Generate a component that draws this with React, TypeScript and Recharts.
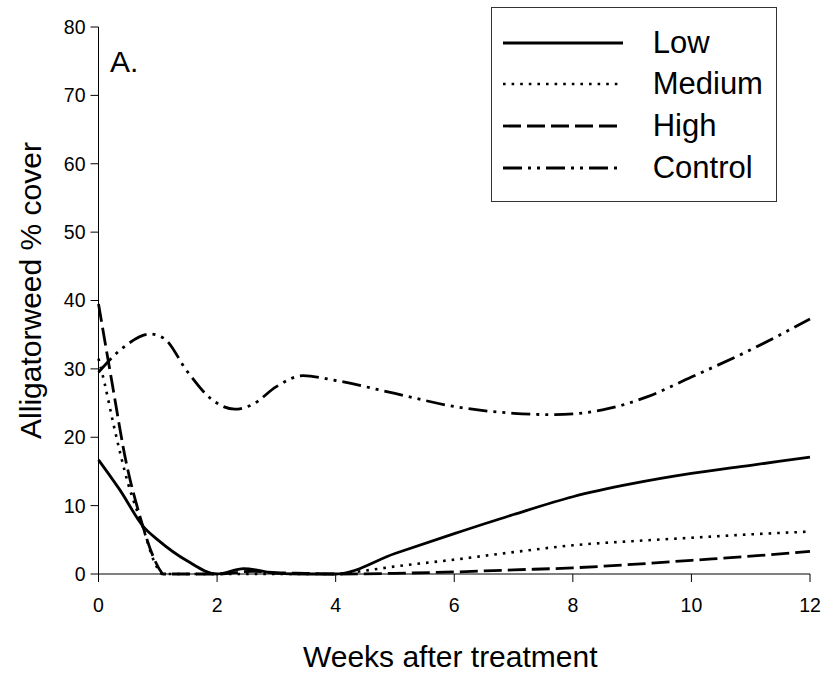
import React from 'react';
import { LineChart, Line, XAxis, YAxis, Legend } from 'recharts';

// Weeks after treatment (x) and % cover (y)
const lowWeeks = [0, 0.36, 0.76, 1.0, 1.5, 2.0, 2.45, 3.0, 3.5, 4, 5, 6, 7, 8, 9, 10, 11, 12];
const lowCover = [16.7, 12.3, 6.9, 5.0, 1.9, 0, 0.8, 0.1, 0, 0, 3.0, 5.9, 8.7, 11.3, 13.2, 14.7, 15.9, 17.1];

const mediumWeeks = [0, 0.1, 0.25, 0.5, 0.75, 0.95, 1.04, 1.07, 2, 3, 4, 4.5, 5, 6, 7, 8, 9, 10, 11, 12];
const mediumCover = [31.5, 28.0, 22.0, 13.2, 6.8, 1.6, 0.3, 0, 0, 0, 0, 0.5, 1.1, 2.1, 3.2, 4.2, 4.8, 5.3, 5.8, 6.2];

const highWeeks = [0, 0.22, 0.47, 0.7, 0.95, 1.05, 1.09, 2.0, 2.6, 3.0, 3.5, 4, 5, 6, 7, 8, 9, 10, 11, 12];
const highCover = [39.5, 28.4, 16.2, 8.4, 2.0, 0.4, 0, 0, 0.4, 0.2, 0.1, 0, 0.1, 0.3, 0.6, 0.9, 1.4, 2.0, 2.6, 3.3];

const controlWeeks = [0, 0.4, 0.87, 1.1, 1.5, 1.9, 2.3, 2.6, 3.0, 3.45, 4, 5, 6, 7, 7.67, 8.5, 9.25, 10, 11, 12];
const controlCover = [29.5, 33.0, 35.1, 34.5, 29.6, 25.6, 24.1, 24.8, 27.4, 29.0, 28.3, 26.4, 24.5, 23.5, 23.3, 24.0, 25.9, 28.8, 32.8, 37.3];

const xTicks = [0, 2, 4, 6, 8, 10, 12];
const yTicks = [0, 10, 20, 30, 40, 50, 60, 70, 80];

const seriesNames = ['Low', 'Medium', 'High', 'Control'];

const toData = (xs: number[], ys: number[]) => xs.map((x, i) => ({ x, y: ys[i] }));

const FONT = '"Liberation Sans", Arial, sans-serif';
const SW = 2.8;

const styles: Record<string, { dash?: string; width: number }> = {
  Low: { width: SW },
  Medium: { dash: '2.6 6', width: 2.6 },
  High: { dash: '18 6', width: SW },
  Control: { dash: '19 6 3 6 3 6', width: SW },
};

const series = [
  { name: 'Low', data: toData(lowWeeks, lowCover) },
  { name: 'Medium', data: toData(mediumWeeks, mediumCover) },
  { name: 'High', data: toData(highWeeks, highCover) },
  { name: 'Control', data: toData(controlWeeks, controlCover) },
];

const LegendBox = () => (
  <div
    style={{
      border: '1px solid #333',
      width: 286,
      height: 195,
      boxSizing: 'border-box',
      paddingTop: 14,
      background: '#fff',
      fontFamily: FONT,
    }}
  >
    {seriesNames.map((n) => (
      <div key={n} style={{ height: 41.7, display: 'flex', alignItems: 'center' }}>
        <svg width={150} height={20} style={{ display: 'block' }}>
          <line
            x1={11}
            y1={10}
            x2={131}
            y2={10}
            stroke="#000"
            strokeWidth={styles[n].width}
            strokeDasharray={styles[n].dash}
          />
        </svg>
        <span style={{ marginLeft: 11, fontSize: 31, color: '#000', lineHeight: '34px' }}>{n}</span>
      </div>
    ))}
  </div>
);

const XLabel = (props: any) => {
  const vb = props.viewBox || { x: 98.5, y: 574, width: 711.5, height: 30 };
  return (
    <text x={vb.x + vb.width / 2 - 4} y={667} textAnchor="middle" fontSize={30} fontFamily={FONT} fill="#000">
      Weeks after treatment
    </text>
  );
};

const YLabel = (props: any) => {
  const vb = props.viewBox || { x: 38.5, y: 27, width: 60, height: 547 };
  const cx = 41;
  const cy = vb.y + vb.height / 2 - 10;
  return (
    <text
      x={cx}
      y={cy}
      transform={`rotate(-90, ${cx}, ${cy})`}
      textAnchor="middle"
      fontSize={30}
      fontFamily={FONT}
      fill="#000"
    >
      Alligatorweed % cover
    </text>
  );
};

export default function App() {
  return (
    <div style={{ position: 'absolute', left: 0, top: 0, background: '#fff' }}>
      <LineChart width={827} height={675} margin={{ top: 27, right: 17, bottom: 71, left: 38.5 }}>
        <XAxis
          dataKey="x"
          type="number"
          domain={[0, 12]}
          ticks={xTicks}
          allowDuplicatedCategory={false}
          height={30}
          tickSize={8}
          tickMargin={16}
          stroke="#000"
          tick={{ fill: '#000', fontSize: 19.5, fontFamily: FONT }}
          label={{ content: XLabel }}
        />
        <YAxis
          type="number"
          domain={[0, 80]}
          ticks={yTicks}
          width={60}
          tickSize={8}
          tickMargin={5}
          stroke="#000"
          tick={{ fill: '#000', fontSize: 19.5, fontFamily: FONT }}
          label={{ content: YLabel }}
        />
        {series.map((s) => (
          <Line
            key={s.name}
            name={s.name}
            data={s.data}
            dataKey="y"
            type="monotone"
            stroke="#000"
            strokeWidth={styles[s.name].width}
            strokeDasharray={styles[s.name].dash}
            dot={false}
            activeDot={false}
            isAnimationActive={false}
          />
        ))}
        <Legend
          layout="horizontal"
          align="center"
          verticalAlign="middle"
          content={LegendBox}
          wrapperStyle={{ left: 490.7, top: 6.7, width: 286, height: 195 }}
        />
        <text x={110} y={72} fontSize={30} fontFamily={FONT} fill="#000">
          A.
        </text>
      </LineChart>
    </div>
  );
}
